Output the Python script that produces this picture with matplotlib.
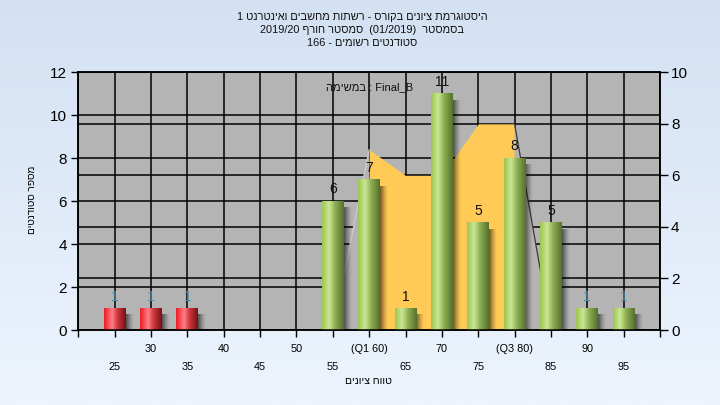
import re
import numpy as np
import matplotlib
matplotlib.use("Agg")
import matplotlib.pyplot as plt
from matplotlib.colors import LinearSegmentedColormap, to_rgb

plt.rcParams['font.family'] = ['Liberation Sans', 'DejaVu Sans']

# ---------------- data ----------------
title_lines = ["היסטוגרמת ציונים בקורס - רשתות מחשבים ואינטרנט 1",
               "בסמסטר  (01/2019)  סמסטר חורף 2019/20",
               "סטודנטים רשומים - 166"]
assignment_word = "במשימה"
assignment_name = "Final_B"
x_title = "טווח ציונים"
y_title = "מספר סטודנטים"

bins = [25, 30, 35, 40, 45, 50, 55, 60, 65, 70, 75, 80, 85, 90, 95]
counts = [1, 1, 1, 0, 0, 0, 6, 7, 1, 11, 5, 8, 5, 1, 1]
groups = ['fail', 'fail', 'fail', 'fail', 'fail', 'fail',
          'pass', 'pass', 'pass', 'pass', 'pass', 'pass', 'pass', 'pass', 'pass']

# secondary (right axis) area series
area_x = [55, 60, 65, 70, 75, 80, 85]
area_v = [0, 7, 6, 6, 8, 8, 0]

major_ticks = [20, 30, 40, 50, 60, 70, 80, 90, 100]
major_labels = ["", "30", "40", "50", "(Q1 60)", "70", "(Q3 80)", "90", ""]
minor_ticks = [25, 35, 45, 55, 65, 75, 85, 95]
minor_labels = ["25", "35", "45", "55", "65", "75", "85", "95"]

left_ticks = [0, 2, 4, 6, 8, 10, 12]
right_ticks = [0, 2, 4, 6, 8, 10]


def rtl(s):
    """Visual (left-to-right) order for a right-to-left paragraph."""
    r = s[::-1]
    r = re.sub(r'[0-9A-Za-z_./]+', lambda m: m.group(0)[::-1], r)
    return r.translate(str.maketrans('()', ')('))


# ---------------- figure ----------------
fig = plt.figure(figsize=(7.2, 4.05), dpi=100)

# background gradient
bg = fig.add_axes([0, 0, 1, 1], zorder=-10)
bg.axis('off')
top_c = np.array(to_rgb('#D3E1F3'))
bot_c = np.array(to_rgb('#EDF4FD'))
t = np.linspace(0, 1, 256)[:, None, None]
grad_bg = top_c * (1 - t) + bot_c * t
bg.imshow(grad_bg, aspect='auto', extent=[0, 1, 0, 1])
bg.set_xlim(0, 1)
bg.set_ylim(0, 1)

L, B = 78.3 / 720, 1 - 330 / 405
W, H = (660 - 78.3) / 720, (330 - 72.3) / 405
ax = fig.add_axes([L, B, W, H])
ax.set_facecolor('#B4B4B4')
ax2 = ax.twinx()
ax.set_xlim(20, 100)
ax.set_ylim(0, 12)
ax2.set_ylim(0, 10)

# grid lines (both scales), beneath area and bars
for v in left_ticks:
    ax.plot([20, 100], [v, v], color='black', lw=1.1, zorder=1, solid_capstyle='butt')
for v in right_ticks:
    ax.plot([20, 100], [v, v], color='black', lw=1.1, zorder=1,
            transform=ax2.transData, solid_capstyle='butt')
for v in range(20, 101, 5):
    ax.axvline(v, color='black', lw=1.1, zorder=1)

# area on right scale
gray = '#B4B4B4'
ax.fill([area_x[0], area_x[1], area_x[1]], [area_v[0], area_v[1], 0],
        color=gray, lw=0, zorder=2, transform=ax2.transData)
ax.plot(area_x[0:2], area_v[0:2], color='#CFCFCF', lw=0.8, zorder=2.1,
        transform=ax2.transData)
ax.fill_between(area_x[1:6], area_v[1:6], 0, color='#FFCA55', lw=0, zorder=2,
                transform=ax2.transData)
ax.fill([area_x[5], area_x[6], area_x[5]], [area_v[5], area_v[6], 0],
        color=gray, lw=0, zorder=2, transform=ax2.transData)
ax.plot(area_x[5:7], area_v[5:7], color='#3A3A3A', lw=0.9, zorder=2.1,
        transform=ax2.transData)

# bars with cylinder gradient and shadow
cmaps = {
    'fail': LinearSegmentedColormap.from_list('r', [(0, '#EC1A22'), (0.38, '#FF8088'),
                                                    (0.6, '#D23A40'), (1, '#741014')]),
    'pass': LinearSegmentedColormap.from_list('g', [(0, '#9CC64C'), (0.32, '#CBE696'),
                                                    (0.6, '#8EAE52'), (1, '#56702C')]),
}
label_colors = {25: '#4A8CB0', 30: '#4A8CB0', 35: '#4A8CB0', 90: '#4A8CB0', 95: '#4A8CB0'}
bw = 3.0
hgrad = np.linspace(0, 1, 128)[None, :]
sh = np.zeros((1, 64, 4))
sh[0, :, 3] = np.linspace(0.65, 0.0, 64) ** 1.3
for x, c, g in zip(bins, counts, groups):
    if c <= 0:
        continue
    ax.imshow(sh, extent=[x + bw / 2, x + bw / 2 + 1.0, 0, c - 0.3], aspect='auto',
              zorder=3, interpolation='bilinear')
    ax.imshow(hgrad, cmap=cmaps[g], extent=[x - bw / 2, x + bw / 2, 0, c],
              aspect='auto', zorder=4, interpolation='bilinear')
    ax.text(x, c + 0.22, str(c), ha='center', va='bottom', fontsize=10,
            color=label_colors.get(x, '#111111'), zorder=5)

ax.set_xlim(20, 100)
ax.set_ylim(0, 12)
ax2.set_ylim(0, 10)

ax.text(0.5, 0.943, assignment_word[::-1] + " : " + assignment_name,
        transform=ax.transAxes, ha='center', va='center', fontsize=8,
        color='#101010', zorder=6)

# ticks
ax.set_yticks(left_ticks)
ax.tick_params(axis='y', direction='out', length=5, width=1, labelsize=11, pad=3)
ax2.set_yticks(right_ticks)
ax2.tick_params(axis='y', direction='out', length=6, width=1, labelsize=11, pad=2)
ax.set_xticks(major_ticks)
ax.set_xticklabels(major_labels)
ax.set_xticks(minor_ticks, minor=True)
ax.set_xticklabels(minor_labels, minor=True)
ax.tick_params(axis='x', which='both', direction='out', length=5, width=1,
               labelsize=7.8)
ax.tick_params(axis='x', which='major', pad=5)
ax.tick_params(axis='x', which='minor', pad=18)
for a in (ax, ax2):
    for s in a.spines.values():
        s.set_color('black')
        s.set_linewidth(1.1)

# titles
for i, line in enumerate(title_lines):
    fig.text(362 / 720, 1 - (17 + 13 * i) / 405, rtl(line), ha='center', va='center',
             fontsize=7.9, color='#111111')
fig.text(368 / 720, 1 - 381 / 405, rtl(x_title), ha='center', va='center', fontsize=7.5)
fig.text(32 / 720, 1 - 200 / 405, rtl(y_title), ha='center', va='center', fontsize=7.2,
         rotation=90)

fig.savefig('out.png', dpi=100)
